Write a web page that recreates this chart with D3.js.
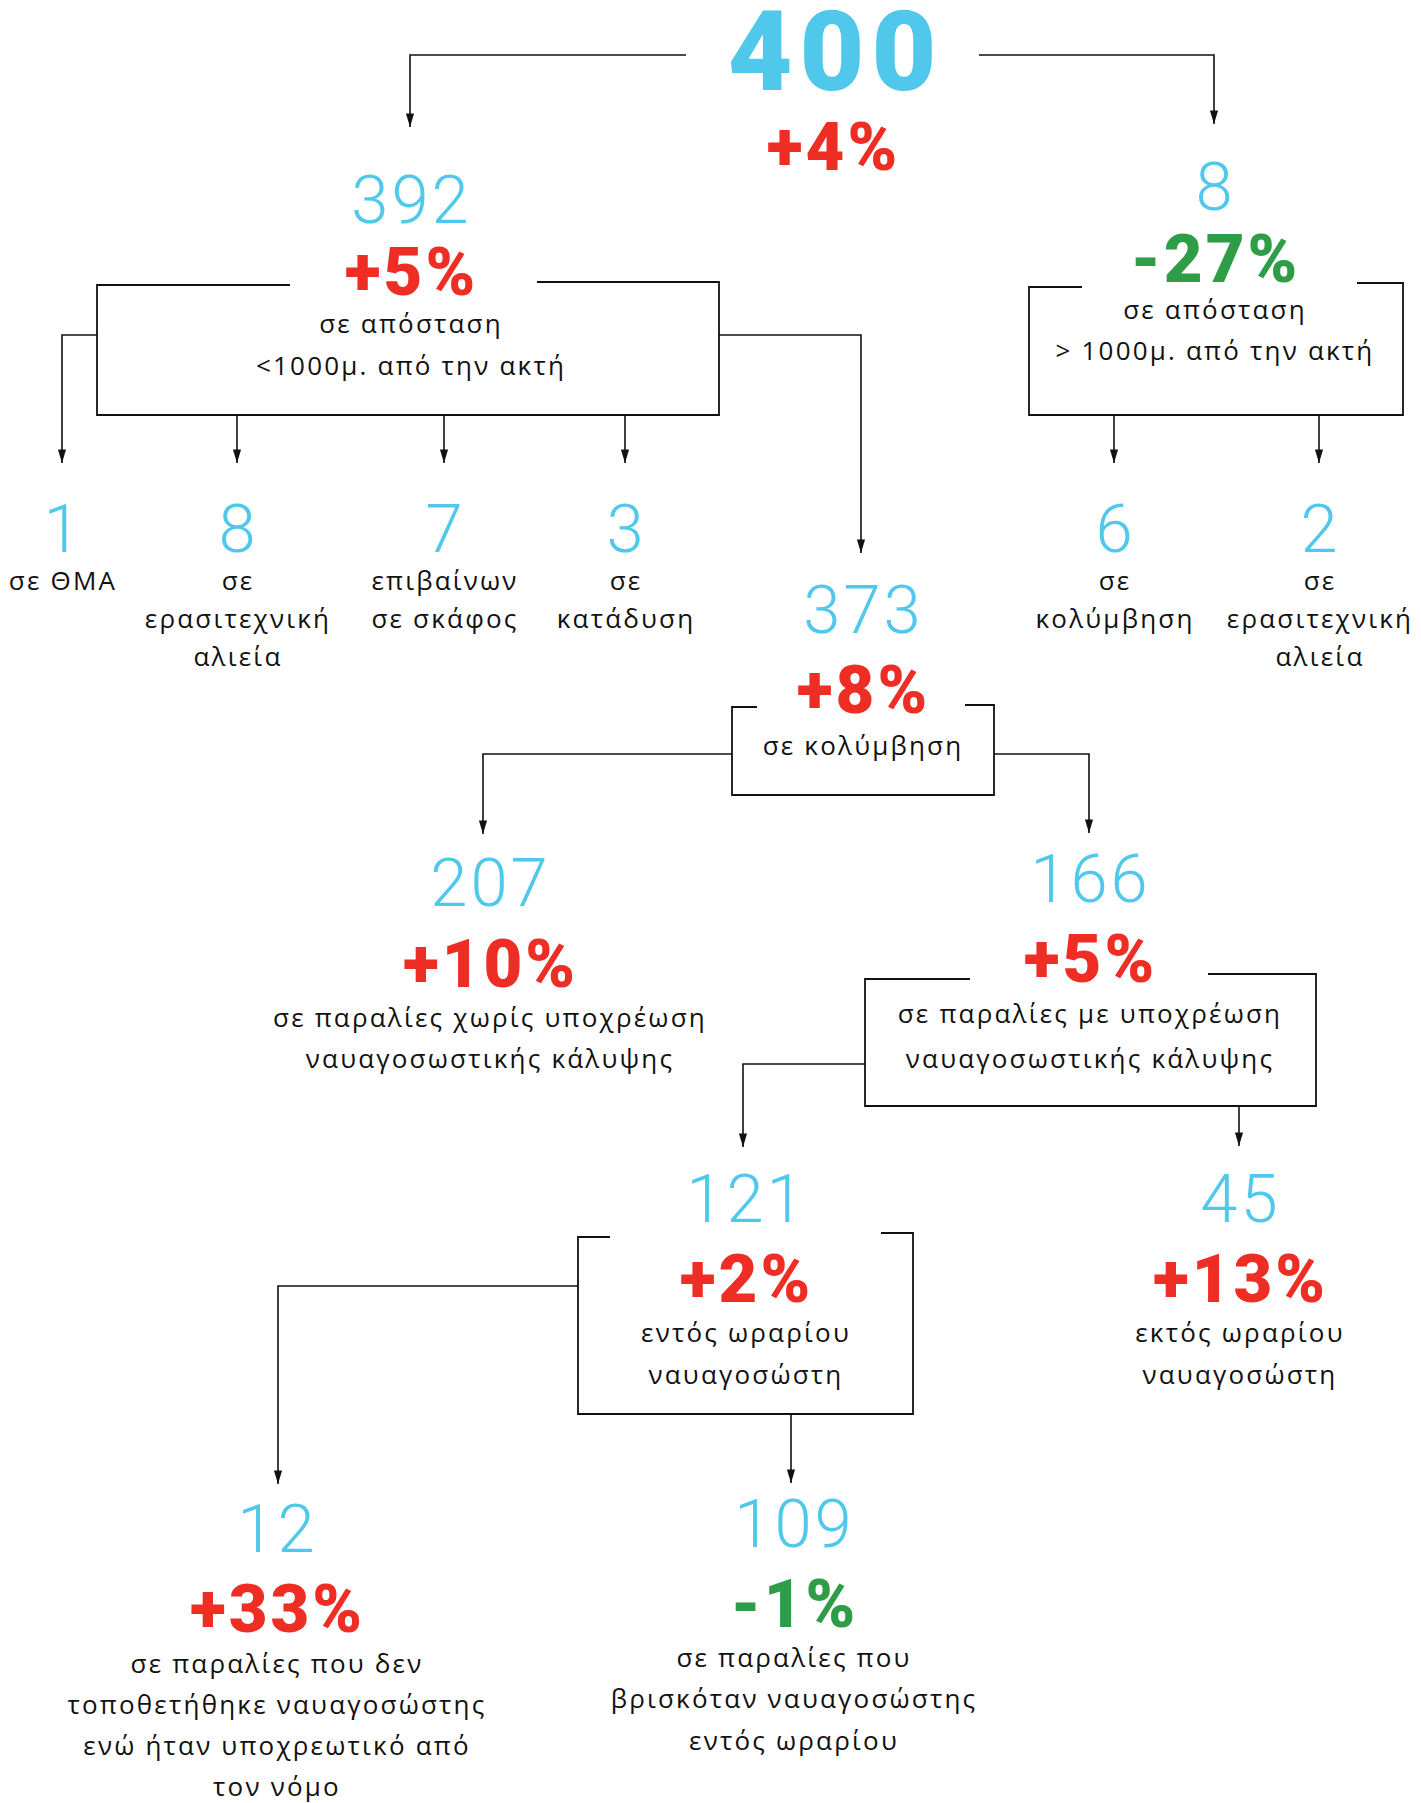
<!DOCTYPE html>
<html>
<head>
<meta charset="utf-8">
<script src="https://cdn.jsdelivr.net/npm/d3@7"></script>
<style>
  body { margin: 0; background: #fff; }
  svg { display: block; }
</style>
</head>
<body>
<svg id="chart"></svg>
<script>
// --- data: one entry per node of the tree ---
var counts  = [400, 392, 8, 1, 8, 7, 3, 373, 6, 2, 207, 166, 121, 45, 12, 109];
var changes = ['+4%', '+5%', '-27%', null, null, null, null, '+8%', null, null,
               '+10%', '+5%', '+2%', '+13%', '+33%', '-1%'];
var parents = [-1, 0, 0, 1, 1, 1, 1, 1, 2, 2, 7, 7, 11, 11, 12, 12];
var labels  = [
    [],
    ['σε απόσταση', '<1000μ. από την ακτή'],
    ['σε απόσταση', '> 1000μ. από την ακτή'],
    ['σε ΘΜΑ'],
    ['σε', 'ερασιτεχνική', 'αλιεία'],
    ['επιβαίνων', 'σε σκάφος'],
    ['σε', 'κατάδυση'],
    ['σε κολύμβηση'],
    ['σε', 'κολύμβηση'],
    ['σε', 'ερασιτεχνική', 'αλιεία'],
    ['σε παραλίες χωρίς υποχρέωση', 'ναυαγοσωστικής κάλυψης'],
    ['σε παραλίες με υποχρέωση', 'ναυαγοσωστικής κάλυψης'],
    ['εντός ωραρίου', 'ναυαγοσώστη'],
    ['εκτός ωραρίου', 'ναυαγοσώστη'],
    ['σε παραλίες που δεν', 'τοποθετήθηκε ναυαγοσώστης', 'ενώ ήταν υποχρεωτικό από', 'τον νόμο'],
    ['σε παραλίες που', 'βρισκόταν ναυαγοσώστης', 'εντός ωραρίου']
];

// --- layout of the diagram (kept apart from the data) ---
// cx: centre of the node, num / pct: baselines, lines: label baselines,
// ax / tip: where the incoming arrow runs and ends,
// box: [left, topLeft, topRight, right, bottom], gap: opening in the top edge,
// exitY: height of side exits from the box
var layout = [
    {cx: 832, num: 90, pct: 170, lines: [], exitL: 686, exitR: 979, exitY: 55},
    {cx: 410, num: 223, pct: 295, lines: [333, 375], ax: 410, tip: 127,
     box: [97, 285, 282, 719, 415], gap: [290, 537], exitY: 335},
    {cx: 1214, num: 210, pct: 282, lines: [319, 360], ax: 1214, tip: 124,
     box: [1029, 287, 283, 1403, 415], gap: [1082, 1357]},
    {cx: 62, num: 552, lines: [590], ax: 62, tip: 463},
    {cx: 237, num: 552, lines: [590, 628, 666], ax: 237, tip: 463},
    {cx: 444, num: 552, lines: [590, 628], ax: 444, tip: 463},
    {cx: 625, num: 552, lines: [590, 628], ax: 625, tip: 463},
    {cx: 862, num: 633, pct: 713, lines: [755], ax: 861, tip: 553,
     box: [732, 707, 705, 994, 795], gap: [757, 965], exitY: 754},
    {cx: 1114, num: 552, lines: [590, 628], ax: 1114, tip: 463},
    {cx: 1319, num: 552, lines: [590, 628, 666], ax: 1319, tip: 463},
    {cx: 489, num: 906, pct: 987, lines: [1027, 1068], ax: 483, tip: 834},
    {cx: 1089, num: 902, pct: 982, lines: [1023, 1068], ax: 1089, tip: 833,
     box: [865, 979, 974, 1316, 1106], gap: [970, 1208], exitY: 1064},
    {cx: 745, num: 1222, pct: 1302, lines: [1342, 1384], ax: 743, tip: 1147,
     box: [578, 1237, 1233, 913, 1414], gap: [610, 881], exitY: 1286},
    {cx: 1239, num: 1222, pct: 1302, lines: [1342, 1384], ax: 1239, tip: 1146},
    {cx: 276, num: 1552, pct: 1632, lines: [1673, 1714, 1755, 1796], ax: 278, tip: 1484},
    {cx: 793, num: 1547, pct: 1627, lines: [1667, 1708, 1750], ax: 791, tip: 1483}
];

var width = 1421, height = 1803;
var colors = {count: '#4fc8ec', up: '#ee2d24', down: '#2f9c48', ink: '#111'};

var nodes = counts.map(function (c, i) {
    return {id: i, count: c, change: changes[i], parent: parents[i],
            label: labels[i], pos: layout[i]};
});

var svg = d3.select('#chart')
    .attr('width', width)
    .attr('height', height);

svg.append('defs').append('marker')
    .attr('id', 'arrow')
    .attr('viewBox', '0 -5 15 10')
    .attr('refX', 15)
    .attr('refY', 0)
    .attr('markerUnits', 'userSpaceOnUse')
    .attr('markerWidth', 15)
    .attr('markerHeight', 9)
    .attr('orient', 'auto')
  .append('path')
    .attr('d', 'M0,-4.5L15,0L0,4.5Z')
    .attr('fill', colors.ink);

// boxes with an opening in the top edge for the percentage
svg.selectAll('path.box')
    .data(nodes.filter(function (d) { return d.pos.box; }))
    .enter()
    .append('path')
    .attr('class', 'box')
    .attr('fill', 'none')
    .attr('stroke', colors.ink)
    .attr('stroke-width', 1.8)
    .attr('d', function (d) {
        var b = d.pos.box, g = d.pos.gap;
        var p = d3.path();
        p.moveTo(g[0], b[1]);
        p.lineTo(b[0], b[1]);
        p.lineTo(b[0], b[4]);
        p.lineTo(b[3], b[4]);
        p.lineTo(b[3], b[2]);
        p.lineTo(g[1], b[2]);
        return p.toString();
    });

// connectors
function link(d) {
    var par = nodes[d.parent].pos, p = d3.path();
    if (!par.box) {
        // from the root number: leave sideways
        p.moveTo(d.pos.ax < par.cx ? par.exitL : par.exitR, par.exitY);
        p.lineTo(d.pos.ax, par.exitY);
    } else if (d.pos.ax < par.box[0]) {
        p.moveTo(par.box[0], par.exitY);
        p.lineTo(d.pos.ax, par.exitY);
    } else if (d.pos.ax > par.box[3]) {
        p.moveTo(par.box[3], par.exitY);
        p.lineTo(d.pos.ax, par.exitY);
    } else {
        p.moveTo(d.pos.ax, par.box[4]);
    }
    p.lineTo(d.pos.ax, d.pos.tip);
    return p.toString();
}

svg.selectAll('path.link')
    .data(nodes.filter(function (d) { return d.parent >= 0; }))
    .enter()
    .append('path')
    .attr('class', 'link')
    .attr('fill', 'none')
    .attr('stroke', colors.ink)
    .attr('stroke-width', 1.6)
    .attr('marker-end', 'url(#arrow)')
    .attr('d', link);

var g = svg.selectAll('g.node')
    .data(nodes)
    .enter()
    .append('g')
    .attr('class', 'node')
    .attr('transform', function (d) { return 'translate(' + d.pos.cx + ',0)'; });

// letter-spacing adds space after the last glyph too, so nudge by half of it
g.append('text')
    .attr('class', 'count')
    .attr('text-anchor', 'middle')
    .attr('x', function (d) { return d.id === 0 ? 3.5 : 1.5; })
    .attr('y', function (d) { return d.pos.num; })
    .attr('fill', colors.count)
    .style('font-family', 'Roboto, sans-serif')
    .style('font-weight', function (d) { return d.id === 0 ? 900 : 300; })
    .style('font-size', function (d) { return d.id === 0 ? '112px' : '67px'; })
    .style('letter-spacing', function (d) { return d.id === 0 ? '7px' : '3px'; })
    .text(function (d) { return d.count; });

g.filter(function (d) { return d.change; })
  .append('text')
    .attr('class', 'change')
    .attr('text-anchor', 'middle')
    .attr('x', 1.5)
    .attr('y', function (d) { return d.pos.pct; })
    .attr('fill', function (d) { return d.change[0] === '-' ? colors.down : colors.up; })
    .style('font-family', 'Roboto, sans-serif')
    .style('font-weight', 900)
    .style('font-size', '67px')
    .style('letter-spacing', '3px')
    .text(function (d) { return d.change; });

g.selectAll('text.label')
    .data(function (d) {
        return d.label.map(function (t, k) { return {text: t, y: d.pos.lines[k]}; });
    })
    .enter()
    .append('text')
    .attr('class', 'label')
    .attr('text-anchor', 'middle')
    .attr('x', 1)
    .attr('y', function (d) { return d.y; })
    .attr('fill', colors.ink)
    .style('font-family', '"Open Sans", sans-serif')
    .style('font-size', '26px')
    .style('letter-spacing', '2.2px')
    .text(function (d) { return d.text; });
</script>
</body>
</html>
